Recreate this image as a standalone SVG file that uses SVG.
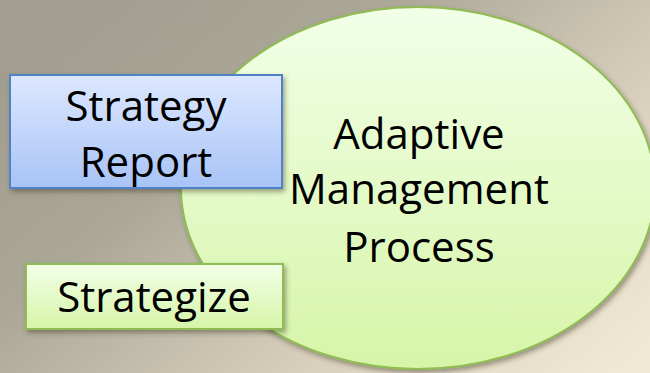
<svg xmlns="http://www.w3.org/2000/svg" width="650" height="373" viewBox="0 0 650 373">
  <defs>
    <linearGradient id="bg" x1="0" y1="0.2" x2="1" y2="0.9">
      <stop offset="0" stop-color="#a29e8f"/>
      <stop offset="0.3" stop-color="#aba797"/>
      <stop offset="0.7" stop-color="#d9d1bd"/>
      <stop offset="1" stop-color="#f0e8d3"/>
    </linearGradient>
    <linearGradient id="greenFill" x1="0" y1="0" x2="0" y2="1">
      <stop offset="0" stop-color="#f2ffe8"/>
      <stop offset="1" stop-color="#d6f5a8"/>
    </linearGradient>
    <linearGradient id="blueFill" x1="0" y1="0" x2="0" y2="1">
      <stop offset="0" stop-color="#dde8ff"/>
      <stop offset="1" stop-color="#a8c3f6"/>
    </linearGradient>
    <filter id="shadow" x="-10%" y="-10%" width="125%" height="130%">
      <feDropShadow dx="2" dy="3" stdDeviation="2.5" flood-color="#3a3528" flood-opacity="0.45"/>
    </filter>
  </defs>
  <style>
    .label { font-family: "Open Sans", "Liberation Sans", sans-serif; font-size: 42px; fill: #000; text-anchor: middle; }
    .green { fill: url(#greenFill); stroke: #8fbc52; stroke-width: 2; filter: url(#shadow); }
    .blue { fill: url(#blueFill); stroke: #4f81c7; stroke-width: 2; filter: url(#shadow); }
  </style>

  <!-- backdrop -->
  <rect x="0" y="0" width="650" height="373" fill="url(#bg)"/>

  <!-- process ellipse -->
  <g id="adaptive-management-process">
    <ellipse class="green" cx="418" cy="188" rx="237" ry="181"/>
    <text class="label" x="419" y="149">Adaptive</text>
    <text class="label" x="419" y="204">Management</text>
    <text class="label" x="419" y="262">Process</text>
  </g>

  <g id="strategy-report">
    <rect class="blue" x="10" y="75" width="272" height="113"/>
    <text class="label" x="146" y="121">Strategy</text>
    <text class="label" x="146" y="177">Report</text>
  </g>

  <g id="strategize">
    <rect class="green" x="26" y="264" width="257" height="65"/>
    <text class="label" x="154" y="312">Strategize</text>
  </g>

  <g id="connectors"></g>
</svg>
